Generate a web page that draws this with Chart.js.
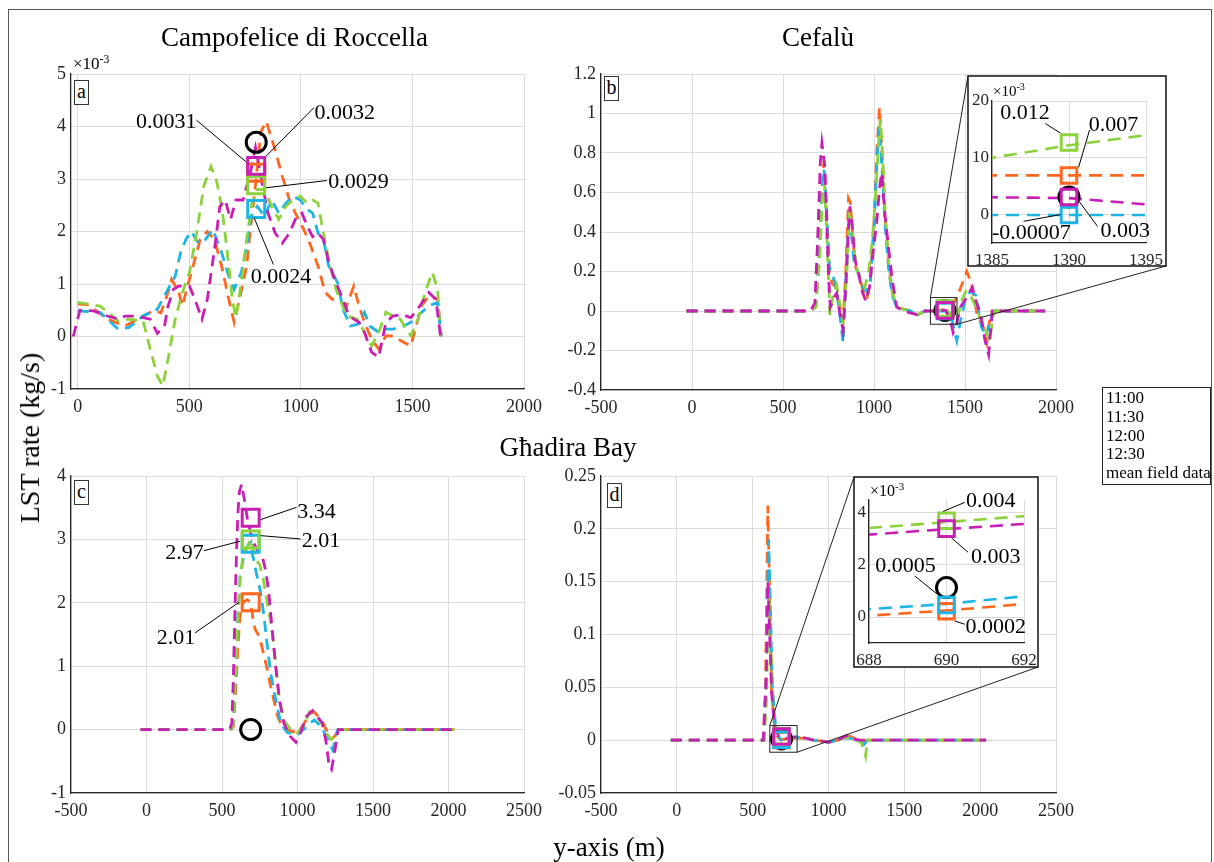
<!DOCTYPE html>
<html>
<head>
<meta charset="utf-8">
<script src="https://cdn.jsdelivr.net/npm/chart.js@4.4.1/dist/chart.umd.min.js"></script>
<style>
  html, body { margin:0; padding:0; background:#fff; }
  #fig { position:relative; width:1214px; height:862px; overflow:hidden; background:#fff;
         font-family:"Liberation Serif","Times New Roman",serif; color:#000; }
  #fig canvas { position:absolute; }
  .txt { position:absolute; white-space:nowrap; line-height:1; z-index:5; }
  .letter { position:absolute; z-index:5; box-sizing:border-box; border:1px solid #333; background:#fff;
            width:15px; height:25px; font-size:20px; line-height:21px; text-align:center; }
  #legend { position:absolute; z-index:6; left:1102px; top:387px; width:109px; height:98px; box-sizing:border-box;
            border:1px solid #222; background:#fff; font-size:17px; line-height:18.8px; padding:1px 0 0 3px; white-space:nowrap; }
  #frame { position:absolute; left:8px; top:9px; width:1204px; height:860px; box-sizing:border-box;
           border:1.5px solid #555; z-index:7; pointer-events:none; }
  sup.e { font-size:0.68em; vertical-align:0.55em; line-height:0; }
</style>
</head>
<body>
<div id="fig">
  <div id="frame"></div>
  <div id="legend"></div>
</div>
<script>
// ===================== DATA =====================
const SERIES_NAMES = ['11:00', '11:30', '12:00', '12:30'];
const SERIES_COLORS = ['#FF661F', '#1EB4E6', '#8CD23C', '#C81EB4'];
const FIELD_NAME = 'mean field data';

// ---- (a) Campofelice di Roccella, y in units of 1e-3 kg/s ----
const A_X_TICKS = [0, 500, 1000, 1500, 2000];
const A_Y_TICKS = [-1, 0, 1, 2, 3, 4, 5];
const A_X_1100 = [0, 50, 133, 213, 293, 341, 373, 405, 421, 453, 469, 485, 517, 549, 581, 613, 645, 677, 701, 725, 757, 773, 797, 821, 845, 885, 917, 949, 981, 1013, 1045, 1077, 1109, 1141, 1165, 1205, 1237, 1261, 1285, 1317, 1349, 1381, 1413, 1461, 1493, 1509, 1541, 1573, 1613, 1629];
const A_Y_1100 = [0.62, 0.6, 0.33, 0.2, 0.39, 0.49, 0.45, 0.84, 1.09, 0.84, 0.58, 0.84, 1.34, 1.85, 2.0, 1.85, 1.34, 0.71, 0.27, 0.71, 1.34, 2.0, 2.9, 3.9, 4.1, 3.55, 3.05, 2.6, 2.3, 2.04, 1.72, 1.34, 0.84, 0.71, 0.71, 0.58, 0.96, 0.58, 0.27, -0.05, -0.24, 0.01, 0.01, -0.11, -0.18, 0.08, 0.58, 0.77, 0.71, 0.01];
const A_X_1130 = [0, 101, 181, 229, 293, 357, 397, 437, 461, 485, 509, 541, 573, 605, 645, 677, 701, 733, 757, 781, 805, 837, 869, 901, 933, 965, 997, 1029, 1053, 1077, 1101, 1125, 1165, 1189, 1221, 1253, 1285, 1309, 1349, 1381, 1413, 1461, 1493, 1541, 1573, 1613, 1629];
const A_Y_1130 = [0.49, 0.46, 0.14, 0.17, 0.39, 0.52, 0.84, 1.15, 1.6, 1.85, 2.0, 1.78, 1.85, 2.04, 1.6, 1.15, 0.9, 1.22, 1.72, 2.35, 2.48, 2.29, 2.6, 2.35, 2.54, 2.67, 2.6, 2.42, 2.35, 1.97, 1.85, 1.34, 1.02, 0.52, 0.2, 0.23, 0.46, 0.2, 0.08, 0.14, 0.14, 0.2, 0.27, 0.46, 0.58, 0.65, 0.0];
const A_X_1200 = [0, 101, 181, 229, 293, 325, 357, 381, 405, 437, 469, 501, 533, 565, 597, 621, 645, 669, 693, 709, 733, 757, 781, 805, 837, 869, 901, 933, 965, 997, 1029, 1053, 1077, 1101, 1125, 1157, 1181, 1205, 1253, 1285, 1317, 1349, 1381, 1413, 1445, 1493, 1525, 1557, 1589, 1613, 1626];
const A_Y_1200 = [0.65, 0.58, 0.3, 0.33, 0.3, -0.24, -0.75, -0.94, -0.43, 0.33, 0.84, 1.22, 1.97, 2.86, 3.24, 2.99, 2.48, 1.66, 0.71, 0.35, 1.03, 1.85, 2.54, 2.8, 2.8, 2.48, 2.23, 2.48, 2.6, 2.67, 2.54, 2.6, 2.54, 1.97, 1.47, 0.9, 0.65, 0.39, 0.33, 0.08, -0.18, 0.08, 0.46, 0.39, 0.33, 0.01, 0.33, 0.84, 1.22, 0.9, 0.0];
const A_X_1230 = [-20, 10, 69, 133, 181, 213, 261, 325, 357, 389, 405, 429, 453, 501, 525, 557, 581, 613, 637, 661, 685, 709, 741, 773, 797, 829, 853, 885, 917, 949, 981, 1005, 1029, 1053, 1077, 1101, 1125, 1157, 1189, 1213, 1237, 1261, 1285, 1317, 1349, 1381, 1413, 1453, 1493, 1533, 1573, 1605, 1626];
const A_Y_1230 = [0, 0.5, 0.49, 0.39, 0.33, 0.39, 0.39, 0.33, 0.06, 0.2, 0.58, 0.9, 0.96, 0.96, 0.71, 0.33, 0.71, 1.66, 2.48, 2.6, 2.23, 2.6, 2.6, 3.11, 3.6, 2.86, 2.35, 1.97, 1.78, 1.97, 2.29, 2.35, 2.1, 1.9, 1.97, 1.85, 1.41, 1.03, 0.71, 0.42, 0.33, 0.27, 0.08, -0.3, -0.4, 0.27, 0.39, 0.42, 0.36, 0.58, 0.84, 0.71, 0.0];
const A_MARK_X = 800;
const A_MARK_Y = [3.12, 2.43, 2.88, 3.25];      // 11:00, 11:30, 12:00, 12:30
const A_FIELD_Y = 3.7;
const A_LABELS = ['0.0031', '0.0024', '0.0029', '0.0032'];

// ---- (b) Cefalù, kg/s ----
const B_X_TICKS = [-500, 0, 500, 1000, 1500, 2000];
const B_Y_TICKS = [-0.4, -0.2, 0, 0.2, 0.4, 0.6, 0.8, 1, 1.2];
const B_X_1100 = [-30, 650, 680, 700, 715, 725, 740, 755, 770, 790, 810, 830, 845, 860, 870, 885, 900, 920, 940, 960, 980, 1000, 1015, 1030, 1045, 1060, 1080, 1100, 1125, 1160, 1200, 1240, 1280, 1330, 1385, 1390, 1395, 1430, 1460, 1490, 1510, 1535, 1565, 1600, 1620, 1640, 1660, 1940];
const B_Y_1100 = [0, 0, 0.02, 0.3, 0.65, 0.76, 0.5, 0.2, 0.14, 0.12, 0.02, -0.05, 0.2, 0.57, 0.55, 0.35, 0.22, 0.18, 0.1, 0.06, 0.15, 0.45, 0.8, 1.03, 0.78, 0.49, 0.22, 0.09, 0.02, 0.01, 0.0, -0.02, 0.0, 0.0, 0.0069, 0.0069, 0.0069, 0.02, 0.08, 0.15, 0.2, 0.14, -0.01, -0.08, -0.16, -0.01, 0, 0];
const B_X_1130 = [-30, 650, 680, 700, 715, 725, 740, 755, 770, 790, 810, 830, 845, 862, 875, 890, 905, 920, 940, 960, 980, 1000, 1015, 1030, 1045, 1060, 1080, 1100, 1125, 1160, 1200, 1240, 1280, 1330, 1385, 1390, 1395, 1430, 1455, 1475, 1500, 1530, 1560, 1590, 1615, 1635, 1660, 1940];
const B_Y_1130 = [0, 0, 0.02, 0.3, 0.62, 0.72, 0.48, 0.22, 0.19, 0.13, 0.0, -0.16, 0.15, 0.45, 0.4, 0.25, 0.21, 0.18, 0.12, 0.1, 0.15, 0.4, 0.75, 0.93, 0.7, 0.45, 0.22, 0.08, 0.02, 0.01, 0.0, -0.02, 0.0, 0.0, -0.00007, -0.00007, -0.00007, -0.05, -0.15, -0.05, 0.05, 0.1, 0.08, -0.08, -0.13, -0.05, 0, 0];
const B_X_1200 = [-30, 650, 680, 700, 715, 728, 740, 758, 775, 795, 815, 830, 848, 865, 878, 892, 910, 930, 950, 970, 990, 1010, 1025, 1035, 1048, 1062, 1080, 1100, 1125, 1160, 1200, 1240, 1280, 1330, 1385, 1390, 1395, 1430, 1455, 1480, 1505, 1530, 1560, 1590, 1615, 1635, 1660, 1940];
const B_Y_1200 = [0, 0, 0.02, 0.25, 0.55, 0.65, 0.4, -0.02, 0.08, 0.13, 0.02, -0.05, 0.15, 0.48, 0.45, 0.3, 0.2, 0.15, 0.12, 0.2, 0.35, 0.6, 0.85, 0.97, 0.78, 0.5, 0.25, 0.1, 0.02, 0.01, 0.0, -0.02, 0.0, 0.0, 0.010, 0.0122, 0.014, -0.03, -0.05, 0.05, 0.1, 0.08, 0.02, -0.05, -0.1, -0.15, 0, 0];
const B_X_1230 = [-30, 650, 675, 690, 705, 714, 730, 740, 750, 760, 780, 795, 812, 830, 845, 858, 868, 880, 895, 915, 935, 955, 975, 995, 1015, 1030, 1042, 1060, 1080, 1100, 1125, 1160, 1200, 1240, 1280, 1330, 1385, 1390, 1395, 1420, 1435, 1450, 1475, 1510, 1540, 1560, 1585, 1610, 1630, 1650, 1940];
const B_Y_1230 = [0, 0, 0.04, 0.35, 0.75, 0.85, 0.73, 0.46, 0.19, 0.02, 0.07, 0.09, -0.01, -0.1, 0.12, 0.39, 0.53, 0.44, 0.26, 0.19, 0.1, 0.05, 0.12, 0.3, 0.45, 0.62, 0.7, 0.49, 0.32, 0.16, 0.02, 0.0, -0.01, -0.02, 0.0, 0.0, 0.00305, 0.0029, 0.0018, -0.05, -0.11, -0.08, 0.02, 0.07, 0.12, 0.05, -0.01, -0.15, -0.22, 0, 0];
const B_MARK_X = 1390;
const B_MARK_Y = [0.0069, -0.00007, 0.0127, 0.0031];
const B_FIELD_Y = 0.0031;
const B_LABELS = ['0.007', '-0.00007', '0.012', '0.003'];
const IB_X_TICKS = [1385, 1390, 1395];
const IB_Y_TICKS = [0, 0.01, 0.02];

// ---- (c) Għadira Bay, kg/s ----
const C_X_TICKS = [-500, 0, 500, 1000, 1500, 2000, 2500];
const C_Y_TICKS = [-1, 0, 1, 2, 3, 4];
const C_X_1100 = [-40, 560, 575, 590, 605, 620, 640, 665, 690, 705, 720, 740, 760, 780, 800, 820, 845, 870, 900, 950, 1000, 1040, 1080, 1110, 1140, 1170, 1200, 1225, 1250, 1270, 2040];
const C_Y_1100 = [0, 0, 0.05, 0.6, 1.3, 1.8, 2.0, 2.05, 2.01, 1.75, 1.58, 1.5, 1.35, 1.15, 0.95, 0.7, 0.45, 0.2, 0.05, -0.02, -0.05, 0.08, 0.25, 0.28, 0.2, 0.1, -0.05, -0.15, -0.1, 0, 0];
const C_X_1130 = [-40, 560, 575, 590, 605, 620, 645, 670, 690, 700, 722, 756, 778, 800, 822, 856, 889, 933, 1000, 1040, 1080, 1111, 1156, 1200, 1233, 1250, 1267, 2040];
const C_Y_1130 = [0, 0, 0.1, 0.9, 1.8, 2.4, 2.75, 2.9, 2.95, 2.79, 2.53, 2.16, 1.79, 1.32, 0.89, 0.47, 0.1, -0.05, -0.08, 0.0, 0.1, 0.15, 0.05, -0.16, -0.32, -0.15, 0, 0];
const C_X_1200 = [-40, 560, 575, 590, 605, 620, 640, 660, 690, 700, 725, 750, 775, 800, 830, 860, 880, 910, 960, 1000, 1040, 1080, 1120, 1160, 1190, 1220, 1245, 1270, 2040];
const C_Y_1200 = [0, 0, 0.1, 0.9, 1.7, 2.4, 2.75, 2.85, 3.0, 2.9, 2.68, 2.6, 2.35, 2.0, 1.6, 0.95, 0.5, 0.15, -0.02, -0.05, 0.05, 0.28, 0.22, 0.1, -0.05, -0.15, -0.12, 0, 0];
const C_X_1230 = [-40, 550, 565, 575, 585, 595, 605, 615, 630, 650, 670, 690, 710, 740, 765, 790, 810, 830, 855, 880, 910, 950, 990, 1020, 1060, 1100, 1130, 1165, 1190, 1210, 1225, 1245, 1270, 2040];
const C_Y_1230 = [0, 0, 0.1, 0.8, 1.8, 2.7, 3.4, 3.75, 3.87, 3.6, 3.3, 3.1, 2.95, 2.8, 2.75, 2.5, 2.16, 1.63, 1.0, 0.47, 0.1, -0.1, -0.2, -0.05, 0.21, 0.3, 0.21, 0.1, -0.21, -0.58, -0.63, -0.37, 0, 0];
const C_MARK_X = 690;
const C_MARK_Y = [2.01, 2.93, 3.0, 3.34];
const C_FIELD_Y = 0;
const C_LABELS = ['2.01', '2.01', '2.97', '3.34'];

// ---- (d) Għadira Bay, kg/s ----
const D_X_TICKS = [-500, 0, 500, 1000, 1500, 2000, 2500];
const D_Y_TICKS = [-0.05, 0, 0.05, 0.1, 0.15, 0.2, 0.25];
const D_X_1100 = [-40, 570, 585, 600, 612, 625, 645, 665, 688, 690, 692, 720, 780, 850, 900, 960, 1000, 1060, 1100, 1140, 1180, 1220, 1250, 2040];
const D_Y_1100 = [0, 0, 0.05, 0.222, 0.14, 0.045, 0.012, 0.003, 0.00005, 0.00025, 0.0005, 0.001, 0.002, 0.002, 0.0, -0.001, -0.002, 0.0, 0.002, 0.004, 0.001, -0.001, 0, 0];
const D_X_1130 = [-40, 575, 590, 605, 618, 630, 650, 670, 688, 690, 692, 720, 780, 850, 900, 960, 1000, 1060, 1100, 1140, 1180, 1215, 1235, 1255, 2040];
const D_Y_1130 = [0, 0, 0.06, 0.19, 0.12, 0.05, 0.015, 0.004, 0.0003, 0.0005, 0.0008, 0.001, 0.003, 0.002, 0.0, -0.001, -0.002, 0.0, 0.002, 0.002, 0.0, -0.002, -0.004, 0, 0];
const D_X_1200 = [-40, 575, 592, 605, 620, 635, 655, 675, 688, 690, 692, 720, 780, 850, 900, 960, 1000, 1060, 1100, 1140, 1180, 1215, 1235, 1245, 1255, 2040];
const D_Y_1200 = [0, 0, 0.04, 0.15, 0.09, 0.035, 0.01, 0.004, 0.00342, 0.00365, 0.00388, 0.002, 0.002, 0.002, 0.0, -0.001, -0.002, 0.0, 0.002, 0.003, 0.0, -0.002, -0.01, -0.015, 0, 0];
const D_X_1230 = [-40, 570, 590, 600, 612, 625, 645, 670, 688, 690, 692, 720, 780, 850, 900, 960, 1000, 1060, 1100, 1135, 1170, 1210, 1250, 2040];
const D_Y_1230 = [0, 0, 0.06, 0.15, 0.1, 0.045, 0.012, 0.004, 0.00317, 0.00338, 0.00358, 0.0015, 0.003, 0.002, 0.0, -0.001, -0.002, 0.0, 0.003, 0.005, 0.001, 0.0, 0, 0];
const D_MARK_X = 690;
const D_MARK_Y = [0.00022, 0.00046, 0.0037, 0.0034];
const D_FIELD_Y = 0.00113;
const D_LABELS = ['0.0002', '0.0005', '0.004', '0.003'];
const ID_X_TICKS = [688, 690, 692];
const ID_Y_TICKS = [0, 0.002, 0.004];

// ===================== LAYOUT / STYLE =====================
const FONT = '"Liberation Serif", "Times New Roman", serif';
const GRID = '#dcdcdc', AXIS = '#262626', TICK = '#262626';
Chart.defaults.font.family = FONT;

const POS_A = { plot: { l: 71, t: 74, r: 524, b: 389 }, pad: { l: 70, t: 30, r: 30, b: 40 } };
const POS_B = { plot: { l: 601, t: 74, r: 1056, b: 390 }, pad: { l: 70, t: 30, r: 116, b: 40 } };
const POS_C = { plot: { l: 71, t: 476, r: 524, b: 793 }, pad: { l: 70, t: 30, r: 30, b: 40 } };
const POS_D = { plot: { l: 601, t: 476, r: 1056, b: 793 }, pad: { l: 70, t: 30, r: 30, b: 40 } };
const BOX_IB = { l: 968, t: 76, r: 1166, b: 266 };
const PLOT_IB = { l: 992, t: 101, r: 1146, b: 243 };
const BOX_ID = { l: 854, t: 477, r: 1038, b: 667 };
const PLOT_ID = { l: 869, t: 500, r: 1024, b: 643 };
const M = 6;
function insetPad(box, plot) { return { l: plot.l - box.l + M, t: plot.t - box.t + M, r: box.r - plot.r + M, b: box.b - plot.b + M }; }

// zoom windows (data units) shown as small rectangles in main panels
const ZOOM_B = { x0: 1310, x1: 1456, y0: -0.067, y1: 0.068 };
const ZOOM_D = { x0: 613, x1: 793, y0: -0.0114, y1: 0.0138 };

// annotation label placement: pixel offsets from the marker (text centre, leader start, leader end)
const A_LABEL_LAYOUT = [
  { t: [-90, -50.5], a: [-59.7, -52.5], b: [-9.7, -10.5] },
  { t: [24.7, 67.9], a: [17.2, 55.6], b: [-2.1, 8.9] },
  { t: [102.4, -3.1], a: [70.6, -4.8], b: [9.9, 2.5] },
  { t: [88.6, -52.4], a: [57.9, -58.4], b: [9.9, -9.7] }
];
const IB_LABEL_LAYOUT = [
  { t: [44.6, -50.5], a: [20.6, -45.5], b: [9.6, -8.2] },
  { t: [-37.7, 18.6], a: [-45.4, 6.3], b: [-8.7, -0.4] },
  { t: [-44, -28.9], a: [-23.7, -18.9], b: [-8.7, -9.5] },
  { t: [56.3, 34.5], a: [28.6, 29.5], b: [10.6, 5.1] }
];
const C_LABEL_LAYOUT = [
  { t: [-74.7, 35.7], a: [-55.6, 30.7], b: [-11.6, 0.1] },
  { t: [70.3, -2.5], a: [49.8, -4.9], b: [9.8, -8.2] },
  { t: [-66.2, 13.5], a: [-46.6, 11.2], b: [-10.9, 1.9] },
  { t: [65.8, -5.5], a: [45.8, -10.5], b: [9.8, 1.8] }
];
const ID_LABEL_LAYOUT = [
  { t: [49.3, 16.3], a: [18.3, 13], b: [8.3, 9.7] },
  { t: [-40.9, -39], a: [-31.7, -29], b: [-9, -10.7] },
  { t: [44.3, -19.4], a: [18.3, -18.4], b: [-3.4, -9.4] },
  { t: [49.3, 28.3], a: [21.6, 23.7], b: [5, 9.3] }
];

// ===================== BUILD =====================
const fig = document.getElementById('fig');
const fmt = v => String(Math.round(v * 1e6) / 1e6);
const fmtMilli = v => String(Math.round(v * 1000));

function makeChart(cfg) {
  const P = cfg.plot, pad = cfg.pad;
  const cl = P.l - pad.l, ct = P.t - pad.t;
  const w = P.r - P.l + pad.l + pad.r, h = P.b - P.t + pad.t + pad.b;
  const cv = document.createElement('canvas');
  cv.width = w; cv.height = h;
  cv.style.left = cl + 'px'; cv.style.top = ct + 'px';
  cv.style.width = w + 'px'; cv.style.height = h + 'px';
  cv.style.zIndex = cfg.z;
  fig.appendChild(cv);

  const datasets = cfg.series.map((s, i) => ({
    label: SERIES_NAMES[i],
    data: s.x.map((xv, k) => ({ x: xv, y: s.y[k] })),
    borderColor: SERIES_COLORS[i], borderWidth: cfg.lw, borderDash: cfg.dash,
    pointRadius: 0, pointHoverRadius: 0, fill: false, tension: 0, order: 10 - i
  }));
  const mk = cfg.marks;
  datasets.push({
    label: FIELD_NAME, data: [{ x: mk.x, y: mk.field }], showLine: false,
    pointStyle: 'circle', pointRadius: mk.rc, pointBorderWidth: 3, pointBorderColor: '#000',
    pointBackgroundColor: 'rgba(0,0,0,0)', borderColor: '#000', backgroundColor: 'rgba(0,0,0,0)', order: 5
  });
  mk.y.forEach((v, i) => datasets.push({
    label: SERIES_NAMES[i] + ' value', data: [{ x: mk.x, y: v }], showLine: false,
    pointStyle: 'rect', pointRadius: mk.rs, pointBorderWidth: 3, pointBorderColor: SERIES_COLORS[i],
    pointBackgroundColor: 'rgba(0,0,0,0)', borderColor: SERIES_COLORS[i], backgroundColor: 'rgba(0,0,0,0)', order: 4 - i
  }));

  const deco = {
    id: 'deco',
    beforeDraw(chart) {
      if (!cfg.box) return;
      const c = chart.ctx, b = cfg.box;
      c.save();
      c.fillStyle = '#fff';
      c.fillRect(b.l - cl, b.t - ct, b.r - b.l, b.b - b.t);
      c.strokeStyle = '#111'; c.lineWidth = 1.5;
      c.strokeRect(b.l - cl, b.t - ct, b.r - b.l, b.b - b.t);
      c.restore();
    },
    afterDatasetsDraw(chart) {
      const c = chart.ctx, X = chart.scales.x, Y = chart.scales.y;
      c.save();
      c.strokeStyle = '#000'; c.lineWidth = 1;
      if (cfg.zoom) {
        const z = cfg.zoom;
        const x0 = X.getPixelForValue(z.x0), x1 = X.getPixelForValue(z.x1);
        const y0 = Y.getPixelForValue(z.y1), y1 = Y.getPixelForValue(z.y0);
        c.strokeStyle = '#222';
        c.strokeRect(x0, y0, x1 - x0, y1 - y0);
        c.beginPath();
        c.moveTo(x0, y0); c.lineTo(z.to.l - cl, z.to.t - ct);
        c.moveTo(x1, y1); c.lineTo(z.to.r - cl, z.to.b - ct);
        c.stroke();
      }
      if (cfg.labels) {
        c.font = '22px ' + FONT; c.fillStyle = '#000';
        c.textAlign = 'center'; c.textBaseline = 'middle';
        cfg.labels.forEach((L, i) => {
          const px = X.getPixelForValue(mk.x), py = Y.getPixelForValue(mk.y[i]);
          c.beginPath();
          c.moveTo(px + L.a[0], py + L.a[1]); c.lineTo(px + L.b[0], py + L.b[1]);
          c.stroke();
          c.fillText(cfg.labelText[i], px + L.t[0], py + L.t[1]);
        });
      }
      c.restore();
    }
  };

  const tickFont = { family: FONT, size: cfg.fs };
  new Chart(cv, {
    type: 'line',
    data: { datasets },
    options: {
      responsive: false, animation: false, devicePixelRatio: 1, events: [],
      layout: { padding: { left: 0, top: pad.t, right: pad.r, bottom: 0 } },
      plugins: { legend: { display: false }, tooltip: { enabled: false } },
      scales: {
        x: {
          type: 'linear', min: cfg.xr[0], max: cfg.xr[1],
          afterBuildTicks: s => { s.ticks = cfg.xt.map(v => ({ value: v })); },
          afterFit: s => { s.height = pad.b; },
          grid: { color: GRID, lineWidth: 1, drawTicks: false },
          border: { display: true, color: AXIS, width: 1.3 },
          ticks: { autoSkip: false, maxRotation: 0, minRotation: 0, padding: cfg.xpad, color: TICK, font: tickFont, callback: v => cfg.xf(v) }
        },
        y: {
          type: 'linear', min: cfg.yr[0], max: cfg.yr[1],
          afterBuildTicks: s => { s.ticks = cfg.yt.map(v => ({ value: v })); },
          afterFit: s => { s.width = pad.l; },
          grid: { color: GRID, lineWidth: 1, drawTicks: false },
          border: { display: true, color: AXIS, width: 1.3 },
          ticks: { autoSkip: false, padding: cfg.ypad, color: TICK, font: tickFont, callback: v => cfg.yf(v) }
        }
      }
    },
    plugins: [deco]
  });
}

const SER_A = [{ x: A_X_1100, y: A_Y_1100 }, { x: A_X_1130, y: A_Y_1130 }, { x: A_X_1200, y: A_Y_1200 }, { x: A_X_1230, y: A_Y_1230 }];
const SER_B = [{ x: B_X_1100, y: B_Y_1100 }, { x: B_X_1130, y: B_Y_1130 }, { x: B_X_1200, y: B_Y_1200 }, { x: B_X_1230, y: B_Y_1230 }];
const SER_C = [{ x: C_X_1100, y: C_Y_1100 }, { x: C_X_1130, y: C_Y_1130 }, { x: C_X_1200, y: C_Y_1200 }, { x: C_X_1230, y: C_Y_1230 }];
const SER_D = [{ x: D_X_1100, y: D_Y_1100 }, { x: D_X_1130, y: D_Y_1130 }, { x: D_X_1200, y: D_Y_1200 }, { x: D_X_1230, y: D_Y_1230 }];

const MAIN = { lw: 2.8, dash: [11, 7], fs: 18, xpad: 7, ypad: 5, z: 1, xf: fmt, yf: fmt };
const INSET = { lw: 2.6, dash: [13, 8], fs: 17, xpad: 7, ypad: 3, z: 2, xf: fmt, yf: fmtMilli };

makeChart(Object.assign({}, MAIN, POS_A, { series: SER_A, xr: [-30, 2000], yr: [-1, 5], xt: A_X_TICKS, yt: A_Y_TICKS,
  marks: { x: A_MARK_X, y: A_MARK_Y, field: A_FIELD_Y, rs: 12, rc: 10 }, labels: A_LABEL_LAYOUT, labelText: A_LABELS }));
makeChart(Object.assign({}, MAIN, POS_B, { series: SER_B, xr: [-500, 2000], yr: [-0.4, 1.2], xt: B_X_TICKS, yt: B_Y_TICKS,
  marks: { x: B_MARK_X, y: B_MARK_Y, field: B_FIELD_Y, rs: 11, rc: 10 }, zoom: Object.assign({ to: BOX_IB }, ZOOM_B) }));
makeChart(Object.assign({}, MAIN, POS_C, { series: SER_C, xr: [-500, 2500], yr: [-1, 4], xt: C_X_TICKS, yt: C_Y_TICKS,
  marks: { x: C_MARK_X, y: C_MARK_Y, field: C_FIELD_Y, rs: 12, rc: 10 }, labels: C_LABEL_LAYOUT, labelText: C_LABELS }));
makeChart(Object.assign({}, MAIN, POS_D, { series: SER_D, xr: [-500, 2500], yr: [-0.05, 0.25], xt: D_X_TICKS, yt: D_Y_TICKS,
  marks: { x: D_MARK_X, y: D_MARK_Y, field: D_FIELD_Y, rs: 11, rc: 10 }, zoom: Object.assign({ to: BOX_ID }, ZOOM_D) }));
makeChart(Object.assign({}, INSET, { plot: PLOT_IB, pad: insetPad(BOX_IB, PLOT_IB), box: BOX_IB, series: SER_B,
  xr: [1385, 1395], yr: [-0.005, 0.02], xt: IB_X_TICKS, yt: IB_Y_TICKS,
  marks: { x: B_MARK_X, y: B_MARK_Y, field: B_FIELD_Y, rs: 11, rc: 10 }, labels: IB_LABEL_LAYOUT, labelText: B_LABELS }));
makeChart(Object.assign({}, INSET, { plot: PLOT_ID, pad: insetPad(BOX_ID, PLOT_ID), box: BOX_ID, series: SER_D,
  xr: [688, 692], yr: [-0.001, 0.0045], xt: ID_X_TICKS, yt: ID_Y_TICKS,
  marks: { x: D_MARK_X, y: D_MARK_Y, field: D_FIELD_Y, rs: 11, rc: 10 }, labels: ID_LABEL_LAYOUT, labelText: D_LABELS }));

// ===================== TEXT =====================
function txt(html, x, y, size, extra) {
  const d = document.createElement('div');
  d.className = 'txt';
  d.innerHTML = html;
  d.style.left = x + 'px'; d.style.top = y + 'px'; d.style.fontSize = size + 'px';
  if (extra) Object.assign(d.style, extra);
  fig.appendChild(d);
  return d;
}
const CENTER = { transform: 'translate(-50%,-50%)' };
txt('Campofelice di Roccella', 294.5, 37, 27, CENTER);
txt('Cefalù', 818, 37, 27, CENTER);
txt('Għadira Bay', 568, 447, 27, CENTER);
txt('LST rate (kg/s)', 29.5, 438, 28, { transform: 'translate(-50%,-50%) rotate(-90deg)' });
txt('y-axis (m)', 609, 847, 27, CENTER);
txt('×10<sup class="e">-3</sup>', 73, 55, 17);
txt('×10<sup class="e">-3</sup>', 993, 84, 15, { zIndex: 8 });
txt('×10<sup class="e">-3</sup>', 870, 483, 16, { zIndex: 8 });

[['a', 74, 80], ['b', 604, 76], ['c', 74, 480], ['d', 607, 483]].forEach(([s, x, y]) => {
  const d = document.createElement('div');
  d.className = 'letter'; d.textContent = s;
  d.style.left = x + 'px'; d.style.top = y + 'px';
  fig.appendChild(d);
});

document.getElementById('legend').innerHTML = SERIES_NAMES.concat([FIELD_NAME]).join('<br>');
</script>
</body>
</html>
